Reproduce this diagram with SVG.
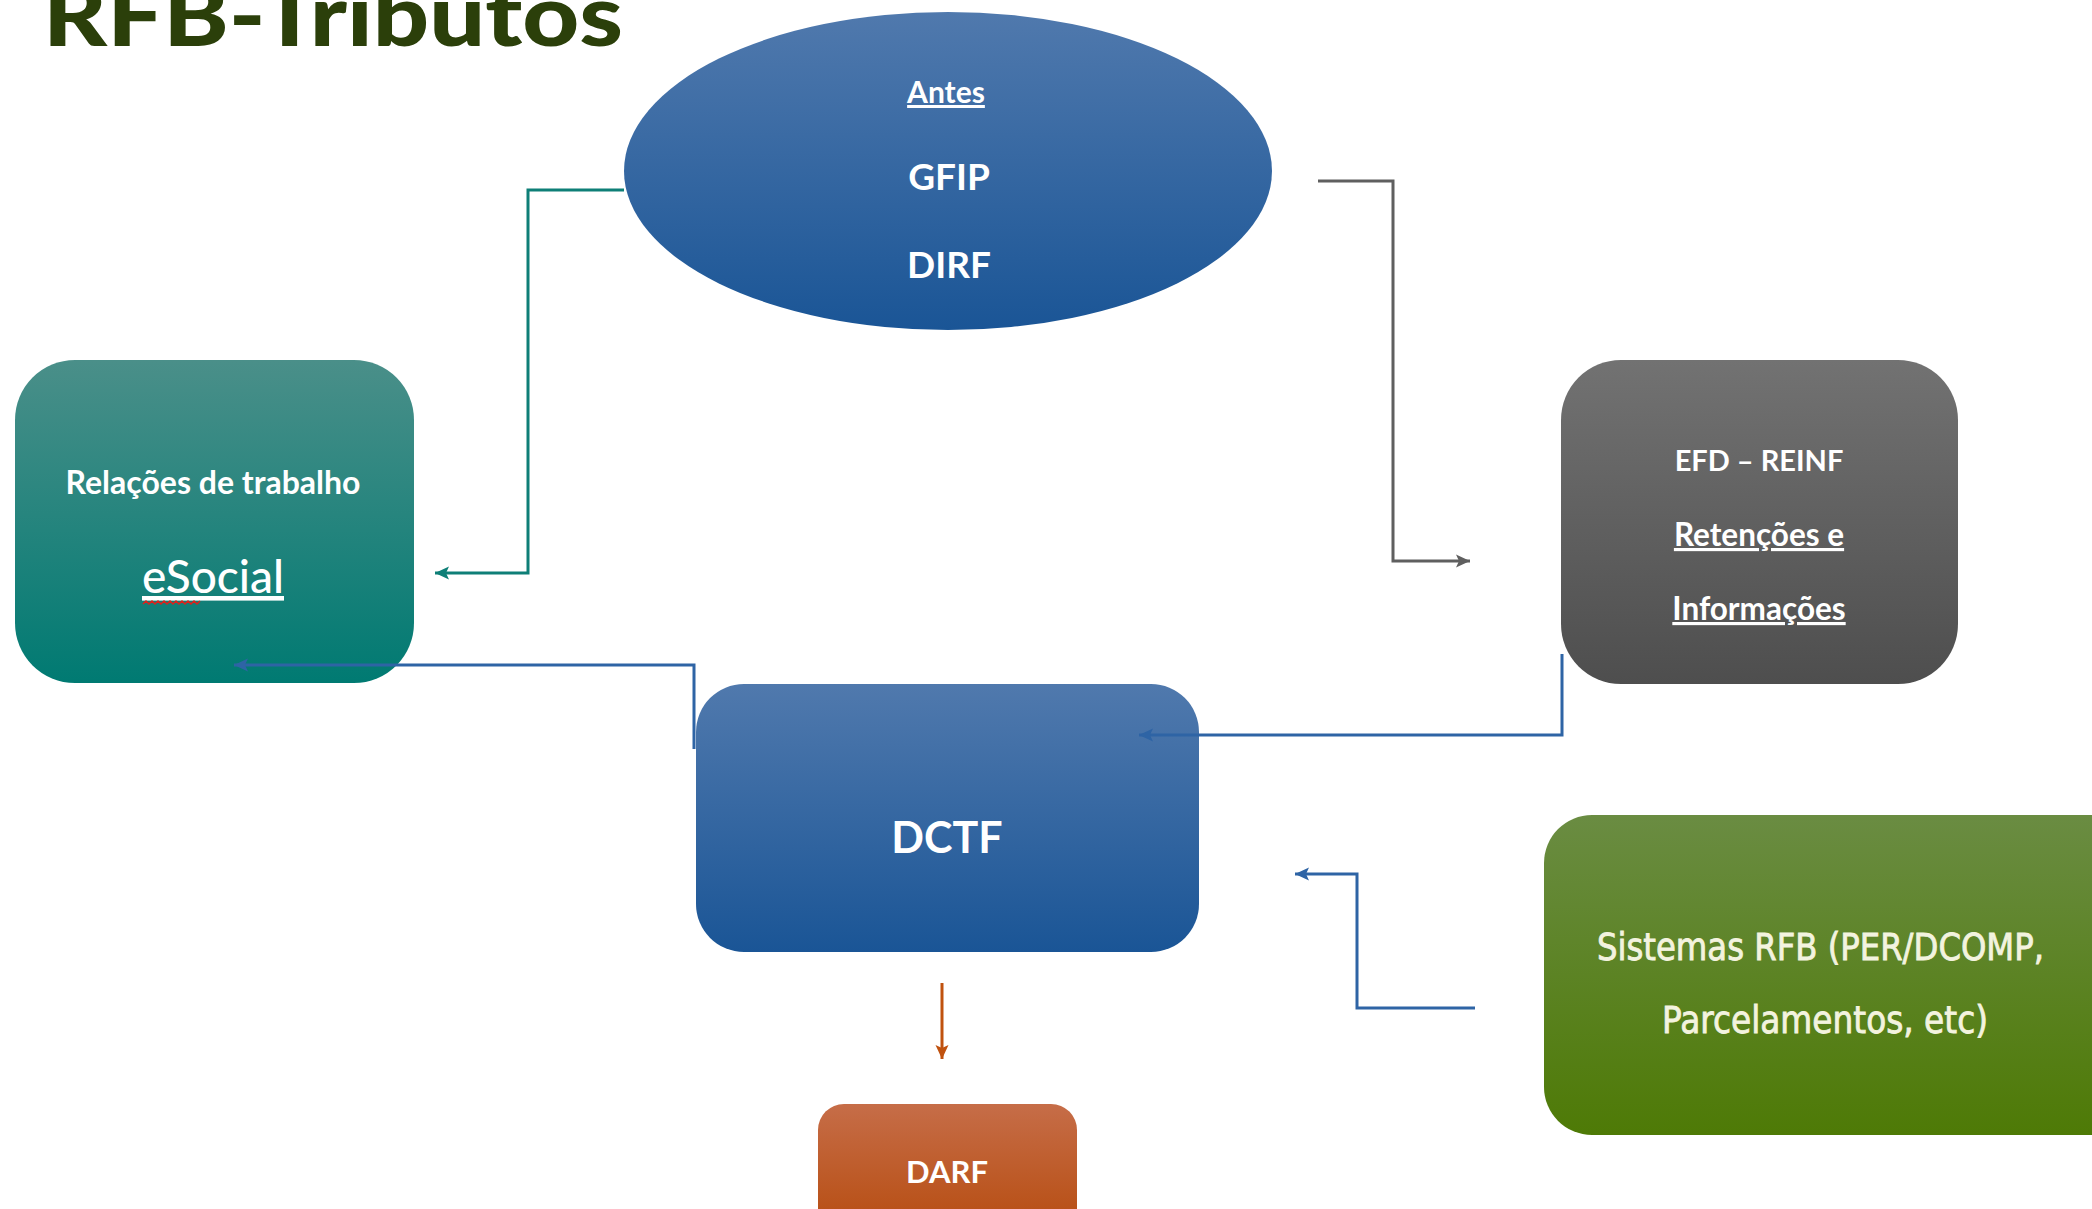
<svg xmlns="http://www.w3.org/2000/svg" width="2092" height="1209" viewBox="0 0 2092 1209">
  <defs>
    <linearGradient id="gBlue" x1="0" y1="0" x2="0" y2="1">
      <stop offset="0" stop-color="#5079AD"/>
      <stop offset="1" stop-color="#1A5596"/>
    </linearGradient>
    <linearGradient id="gTeal" x1="0" y1="0" x2="0" y2="1">
      <stop offset="0" stop-color="#4A8F89"/>
      <stop offset="1" stop-color="#007A72"/>
    </linearGradient>
    <linearGradient id="gGray" x1="0" y1="0" x2="0" y2="1">
      <stop offset="0" stop-color="#727272"/>
      <stop offset="1" stop-color="#4E4E4E"/>
    </linearGradient>
    <linearGradient id="gGreen" x1="0" y1="0" x2="0" y2="1">
      <stop offset="0" stop-color="#6A8C42"/>
      <stop offset="1" stop-color="#4E7A06"/>
    </linearGradient>
    <linearGradient id="gOrange" x1="0" y1="0" x2="0" y2="1">
      <stop offset="0" stop-color="#C66D48"/>
      <stop offset="1" stop-color="#B5490A"/>
    </linearGradient>
    <marker id="aTeal" markerUnits="userSpaceOnUse" markerWidth="16" markerHeight="14" refX="14" refY="7" orient="auto">
      <path d="M0,0.5 L14,7 L0,13.5 L3,7 Z" fill="#0E7F77"/>
    </marker>
    <marker id="aGray" markerUnits="userSpaceOnUse" markerWidth="16" markerHeight="14" refX="14" refY="7" orient="auto">
      <path d="M0,0.5 L14,7 L0,13.5 L3,7 Z" fill="#5F5F5F"/>
    </marker>
    <marker id="aBlue" markerUnits="userSpaceOnUse" markerWidth="16" markerHeight="14" refX="14" refY="7" orient="auto">
      <path d="M0,0.5 L14,7 L0,13.5 L3,7 Z" fill="#2E64A5"/>
    </marker>
    <marker id="aOrange" markerUnits="userSpaceOnUse" markerWidth="16" markerHeight="14" refX="14" refY="7" orient="auto">
      <path d="M0,0.5 L14,7 L0,13.5 L3,7 Z" fill="#C0520F"/>
    </marker>
  </defs>
  <style>
    .lbl { font-family: Lato, "Liberation Sans", sans-serif; font-weight: bold; fill: #FFFFFF; text-anchor: middle; }
    .u { text-decoration: underline; }
    .conn { fill: none; stroke-width: 3; }
    .sis { font-family: "DejaVu Sans Condensed", "DejaVu Sans", Verdana, sans-serif; fill: #F3F3DF; stroke: #F3F3DF; stroke-width: 0.8; font-size: 37px; }
  </style>
  <rect width="2092" height="1209" fill="#FFFFFF"/>

  <text id="title" x="43" y="46" font-family="Lato, 'Liberation Sans', sans-serif" font-weight="900" font-size="86" fill="#2B3F0A" textLength="580" lengthAdjust="spacingAndGlyphs">RFB-Tributos</text>

  <g id="antes">
    <ellipse cx="948" cy="171" rx="324" ry="159" fill="url(#gBlue)"/>
    <text class="lbl u" x="946" y="103" font-size="30">Antes</text>
    <text class="lbl" x="949" y="190" font-size="37">GFIP</text>
    <text class="lbl" x="949" y="278" font-size="37">DIRF</text>
  </g>

  <g id="esocial">
    <path d="M15,420 A60,60 0 0 1 75,360 H354 A60,60 0 0 1 414,420 V623 A60,60 0 0 1 354,683 H75 A60,60 0 0 1 15,623 Z" fill="url(#gTeal)"/>
    <text class="lbl" x="213" y="494" font-size="32">Relações de trabalho</text>
    <text class="lbl u" x="213" y="593" font-size="46" style="font-weight:500">eSocial</text>
    <path d="M143,604 l3,-3 l3,3 l3,-3 l3,3 l3,-3 l3,3 l3,-3 l3,3 l3,-3 l3,3 l3,-3 l3,3 l3,-3 l3,3 l3,-3 l3,3 l3,-3 l3,3 l3,-3" fill="none" stroke="#E0201A" stroke-width="1.5"/>
  </g>

  <g id="efd-reinf">
    <rect x="1561" y="360" width="397" height="324" rx="60" ry="60" fill="url(#gGray)"/>
    <text class="lbl" x="1759" y="471" font-size="29">EFD – REINF</text>
    <text class="lbl u" x="1759" y="546" font-size="31.5">Retenções e</text>
    <text class="lbl u" x="1759" y="620" font-size="31.5">Informações</text>
  </g>

  <g id="dctf">
    <rect x="696" y="684" width="503" height="268" rx="48" ry="48" fill="url(#gBlue)"/>
    <text class="lbl" x="947" y="853" font-size="43">DCTF</text>
  </g>

  <g id="sistemas">
    <rect x="1544" y="815" width="600" height="320" rx="48" ry="48" fill="url(#gGreen)"/>
    <text class="sis" x="1597" y="960" textLength="447" lengthAdjust="spacingAndGlyphs">Sistemas RFB (PER/DCOMP,</text>
    <text class="sis" x="1662" y="1033" textLength="326" lengthAdjust="spacingAndGlyphs">Parcelamentos, etc)</text>
  </g>

  <g id="darf">
    <rect x="818" y="1104" width="259" height="140" rx="26" ry="26" fill="url(#gOrange)"/>
    <text class="lbl" x="947" y="1183" font-size="31">DARF</text>
  </g>

  <g id="connectors">
    <path class="conn" d="M624,190 H528 V573 H435" stroke="#0E7F77" marker-end="url(#aTeal)"/>
    <path class="conn" d="M1318,181 H1393 V561 H1470" stroke="#5F5F5F" marker-end="url(#aGray)"/>
    <path class="conn" d="M1562,654 V735 H1139" stroke="#2E64A5" marker-end="url(#aBlue)"/>
    <path class="conn" d="M694,749 V665 H234" stroke="#2E64A5" marker-end="url(#aBlue)"/>
    <path class="conn" d="M1475,1008 H1357 V874 H1295" stroke="#2E64A5" marker-end="url(#aBlue)"/>
    <path class="conn" d="M942,983 V1059" stroke="#C0520F" marker-end="url(#aOrange)"/>
  </g>
</svg>
